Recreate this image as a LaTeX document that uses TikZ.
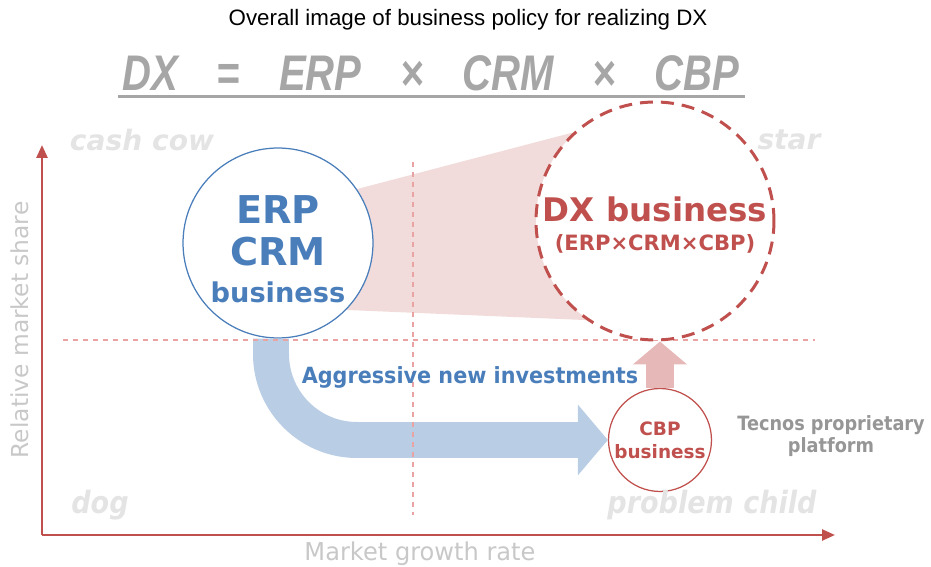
\documentclass[tikz,border=0pt]{standalone}
\usepackage{fontspec}
\setmainfont{Liberation Sans}
\newfontfamily\dejavu{DejaVu Sans}
\usetikzlibrary{arrows.meta,shapes.geometric}

\definecolor{rouge}{HTML}{C0504D}
\definecolor{bleu}{HTML}{4A7EBB}
\definecolor{bleuclair}{HTML}{B9CDE5}
\definecolor{rose}{HTML}{F2DCDB}
\definecolor{rosefleche}{HTML}{E6B9B8}
\definecolor{pointille}{HTML}{E8A3A2}
\definecolor{grisformule}{HTML}{A6A6A6}
\definecolor{grisquadrant}{HTML}{E4E4E4}
\definecolor{grisaxe}{HTML}{C8C8C8}
\definecolor{grisplateforme}{HTML}{969696}

\begin{document}
\begin{tikzpicture}[x=0.02cm,y=-0.02cm,
    axe/.style={draw=rouge,line width=0.5mm,-{Triangle[width=2.2mm,length=2.6mm]}},
    separation/.style={draw=pointille,line width=0.35mm,dash pattern=on 1mm off 1mm},
    quadrant/.style={text=grisquadrant,font=\dejavu\bfseries\itshape\fontsize{16}{18}\selectfont},
    quadrantbas/.style={quadrant,xscale=0.88,font=\dejavu\bfseries\itshape\fontsize{17.5}{18}\selectfont}]
    \useasboundingbox (0,0) rectangle (931,567);

    % Titre et formule
    \node (titre) at (468,20) {\fontsize{12.7}{14}\selectfont Overall image of business policy for realizing DX};
    \node[text=grisformule,xscale=0.8] (formule) at (431,73)
        {\fontsize{28.5}{30}\selectfont\bfseries\itshape DX\hspace{0.97em}=\hspace{0.97em}ERP\hspace{0.97em}×\hspace{0.97em}CRM\hspace{0.97em}×\hspace{0.97em}CBP};
    \draw[grisformule,line width=0.06cm] (118,97) -- (745,97);

    % Zone rose entre les deux cercles
    \fill[rose] (300,204) -- (655,111) -- (655,323) -- (300,308) -- cycle;

    % Les cercles
    \node[circle,draw=bleu,line width=0.25mm,fill=white,minimum size=3.8cm,inner sep=0pt] (erp) at (278,243) {};
    \node[circle,draw=rouge,line width=0.25mm,fill=white,minimum size=2.06cm,inner sep=0pt] (cbp) at (660,440) {};

    % Fleche bleue vers CBP
    \draw[bleuclair,line width=0.72cm,rounded corners=1.72cm,-{Triangle[width=1.38cm,length=0.6cm]}]
        ([xshift=-0.14cm]erp.south) |- (cbp.west);

    % Lignes pointillees des quadrants
    \draw[separation] (63,340) -- (815,340);
    \draw[separation] (413,162) -- (413,515);

    \node[circle,draw=rouge,line width=0.6mm,dash pattern=on 2.6mm off 1.6mm,fill=white,minimum size=4.76cm,
        inner sep=0pt] (dx) at (655,221) {};

    % Fleche rose vers DX
    \draw[rosefleche,line width=0.56cm,-{Triangle[width=1.06cm,length=0.46cm]}] (cbp.north) -- (cbp.north |- dx.south);

    % Textes dans les cercles
    \node[align=center,text=bleu,font=\dejavu\bfseries\fontsize{21.8}{24}\selectfont] (erptexte)
        at ([yshift=-0.12cm]erp.center) {ERP\\[0pt]CRM\\[-3pt]{\fontsize{15.5}{18}\selectfont business}};
    \node[align=center,text=rouge,font=\dejavu\bfseries\fontsize{18.5}{20}\selectfont] (dxtexte)
        at ([yshift=-0.08cm]dx.center) {DX business\\[-3pt]{\fontsize{12}{13}\selectfont(ERP×CRM×CBP)}};
    \node[align=center,text=rouge,font=\dejavu\bfseries\fontsize{10.5}{13}\selectfont] (cbptexte)
        at (cbp.center) {CBP\\business};

    % Axes
    \coordinate (origine) at (42,535);
    \coordinate (haut) at (42,145);
    \coordinate (droite) at (835,535);
    \draw[axe] (origine) -- (haut);
    \draw[axe] (origine) -- (droite);
    \node[rotate=90,text=grisaxe,font=\dejavu\fontsize{13.3}{15}\selectfont] (ordonnee) at (20,330) {Relative market share};
    \node[text=grisaxe,xscale=0.98,font=\dejavu\fontsize{14}{16}\selectfont] (abscisse) at (420,554) {Market growth rate};

    % Noms des quadrants
    \node[quadrant] (vache) at (142,140) {cash cow};
    \node[quadrant] (etoile) at (789,140) {star};
    \node[quadrantbas] (chien) at (100,505) {dog};
    \node[quadrantbas] (enfant) at (712,505) {problem child};

    % Textes
    \node[text=bleu,xscale=0.93,font=\dejavu\bfseries\fontsize{12.7}{14}\selectfont] (invest) at (470,377) {Aggressive new investments};
    \node[text=grisplateforme,xscale=0.9,align=center,font=\dejavu\bfseries\fontsize{11.2}{13}\selectfont] (plateforme) at (831,436)
        {Tecnos proprietary\\platform};
\end{tikzpicture}
\end{document}
